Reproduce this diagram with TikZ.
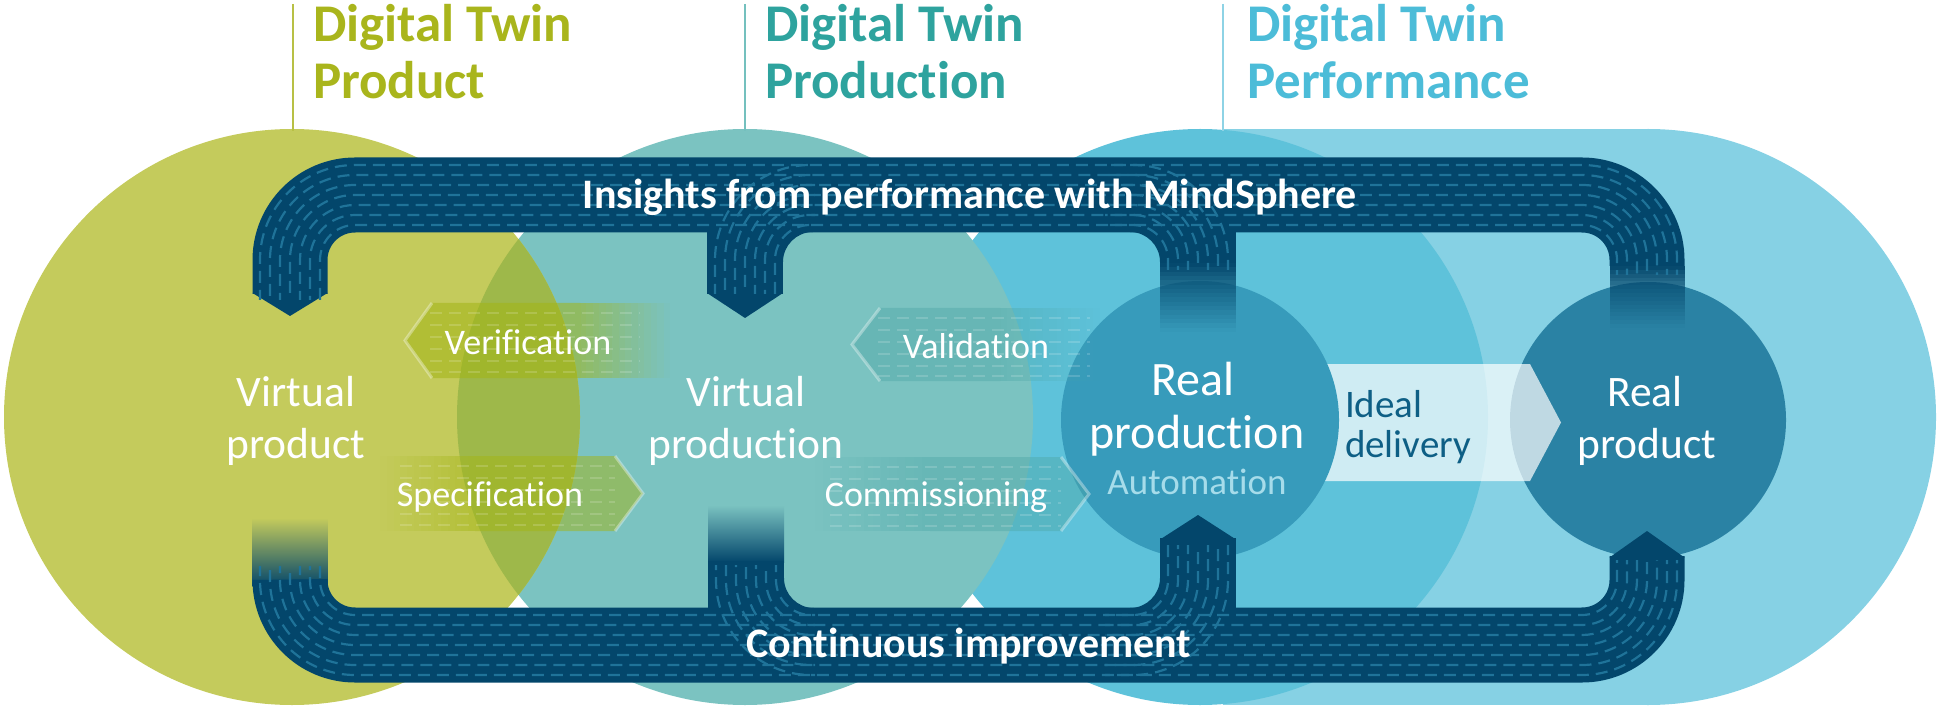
\documentclass[tikz,border=0pt]{standalone}
\usepackage{fontspec}
\newfontfamily\fca{Carlito}[Ligatures=NoCommon]
\newcommand\fsemi{\fca\bfseries}
\newcommand\flight{\fca}
\newcommand\freg{\fca}
\definecolor{cgreen}{HTML}{C4CB5C}
\definecolor{clens}{HTML}{9EB84A}
\definecolor{cteal}{HTML}{7BC3C1}
\definecolor{cmed}{HTML}{5EC2DA}
\definecolor{cstad}{HTML}{86D1E4}
\definecolor{cprod}{HTML}{379BBB}
\definecolor{cprodt}{HTML}{2A82A4}
\definecolor{cband}{HTML}{03466B}
\definecolor{cdash}{HTML}{1F7399}
\definecolor{tgreen}{HTML}{A9B51C}
\definecolor{tteal}{HTML}{2EA39E}
\definecolor{tblue}{HTML}{4CBCD8}
\definecolor{lgreen}{HTML}{B8C045}
\definecolor{lteal}{HTML}{74C0BE}
\definecolor{lblue}{HTML}{8ED3E5}
\definecolor{cauto}{HTML}{A6DCEA}
\definecolor{cideal}{HTML}{0E5F85}
\definecolor{cver}{HTML}{A3B515}
\definecolor{cval}{HTML}{4FA8A8}
\newcommand\hfade[7]{%
  \foreach \i in {1,...,#7}{%
    \pgfmathsetmacro\xa{#1+(#2-#1)*(\i-1)/#7}%
    \pgfmathsetmacro\xb{#1+(#2-#1)*\i/#7}%
    \pgfmathsetmacro\op{#6*(1-(\i-0.5)/#7)}%
    \fill[#5, opacity=\op] (\xa,#3) rectangle (\xb,#4);
  }}
\newcommand\vfade[7]{%
  \foreach \i in {1,...,#7}{%
    \pgfmathsetmacro\ya{#1+(#2-#1)*(\i-1)/#7}%
    \pgfmathsetmacro\yb{#1+(#2-#1)*\i/#7}%
    \pgfmathsetmacro\op{#6*(1-(\i-0.5)/#7)}%
    \fill[#5, opacity=\op] (#3,\ya) rectangle (#4,\yb);
  }}
\tikzset{
  every node/.style={inner sep=0pt, outer sep=0pt},
  tex/.style={cdash, line width=2.2pt, dash pattern=on 12pt off 7pt},
  band/.style={cband, line width=75pt, rounded corners=65pt},
  ttl/.style={anchor=base west, font=\fsemi\fontsize{53pt}{56pt}\selectfont},
  bandlbl/.style={anchor=base, text=white, font=\fsemi\fontsize{42pt}{44pt}\selectfont},
  big/.style={anchor=base, text=white, font=\flight\fontsize{43.5pt}{46pt}\selectfont},
  arr/.style={anchor=base, text=white, font=\flight\fontsize{36pt}{38pt}\selectfont},
  chev/.style={white, opacity=.35, line width=3pt},
  arrtex/.style={white, opacity=.16, line width=2pt, dash pattern=on 12pt off 7pt}
}
\begin{document}
\begin{tikzpicture}[x=1pt,y=-1pt]
\useasboundingbox (0,0) rectangle (1937,708);
% ---- background shapes
\fill[cstad] (1223,129) rectangle (1648,705);
\fill[cstad] (1648,417) circle[radius=288];
\fill[cmed] (1200,417) circle[radius=288];
\fill[cteal] (745,417) circle[radius=288];
\fill[cgreen] (292,417) circle[radius=288];
\begin{scope}
  \clip (292,417) circle[radius=288];
  \fill[clens] (745,417) circle[radius=288];
\end{scope}
% ---- titles
\draw[lgreen, line width=2.5pt] (293,4) -- (293,131);
\draw[lteal, line width=2.5pt] (745,4) -- (745,131);
\draw[lblue, line width=2.5pt] (1223,4) -- (1223,131);
\node[ttl, text=tgreen] (t1a) at (313,42) {Digital Twin};
\node[ttl, text=tgreen] (t1b) at (313,99) {Product};
\node[ttl, text=tteal] (t2a) at (765,42) {Digital Twin};
\node[ttl, text=tteal] (t2b) at (765,99) {Production};
\node[ttl, text=tblue] (t3a) at (1247,42) {Digital Twin};
\node[ttl, text=tblue] (t3b) at (1247,99) {Performance};
% ---- real product circle, ideal delivery, real production circle
\fill[cprodt] (1648,420) circle[radius=138];
\fill[white, opacity=.7] (1250,364) -- (1530,364) -- (1561,422.5) -- (1530,481) -- (1250,481) -- cycle;
\fill[cprod] (1200,420) circle[radius=139];
% ---- text arrows
% Verification
\fill[cver, opacity=.55] (405,340.5) -- (432,303) -- (580,303) -- (580,378) -- (432,378) -- cycle;
\hfade{580}{670}{303}{378}{cver}{.55}{14}
\draw[chev] (432,303) -- (405,340.5) -- (432,378);
\foreach \yy in {313,325,337,349,361,372} \draw[arrtex] (430,\yy) -- (640,\yy);
% Specification
\fill[cver, opacity=.5] (643,493.5) -- (615,456) -- (475,456) -- (475,531) -- (615,531) -- cycle;
\hfade{475}{380}{456}{531}{cver}{.5}{14}
\draw[chev] (615,456) -- (643,493.5) -- (615,531);
\foreach \yy in {466,478,490,502,514,525} \draw[arrtex] (400,\yy) -- (615,\yy);
% Validation
\fill[cval, opacity=.45] (852,344.5) -- (880,308) -- (1000,308) -- (1000,381) -- (880,381) -- cycle;
\hfade{1000}{1100}{308}{381}{cval}{.45}{14}
\draw[chev] (880,308) -- (852,344.5) -- (880,381);
\foreach \yy in {318,330,342,354,366,376} \draw[arrtex] (878,\yy) -- (1090,\yy);
% Commissioning
\fill[cval, opacity=.45] (1089,494) -- (1061,457) -- (930,457) -- (930,531) -- (1061,531) -- cycle;
\hfade{930}{815}{457}{531}{cval}{.45}{14}
\draw[chev] (1061,457) -- (1089,494) -- (1061,531);
\foreach \yy in {467,479,491,503,515,526} \draw[arrtex] (830,\yy) -- (1061,\yy);
% ---- top band
\draw[band] (290,294) -- (290,195) -- (1647,195) -- (1647,266);
\fill[cband] (252.5,293) -- (327.5,293) -- (290,316) -- cycle;
\fill[cband] (707,230) rectangle (783,294);
\fill[cband] (707,293) -- (783,293) -- (745,318) -- cycle;
\fill[cband] (783,232) -- (783,262) arc[start angle=180, end angle=270, radius=30] -- cycle;
\fill[cband] (1160,230) rectangle (1236,263);
\fill[cband] (1160,232) -- (1160,262) arc[start angle=0, end angle=-90, radius=30] -- cycle;
\vfade{263}{332}{1160}{1236}{cband}{1}{16}
\vfade{266}{328}{1609.5}{1684.5}{cband}{1}{16}
% ---- bottom band
\shade[top color=cgreen, bottom color=cband] (252.5,518) rectangle (327.5,586);
\draw[band] (290,585) -- (290,645) -- (1647,645) -- (1647,556);
\fill[cband] (1609.5,557.5) -- (1647,531) -- (1684.5,557.5) -- cycle;
\shade[top color=cteal, bottom color=cband] (708,505) rectangle (784,562);
\fill[cband] (708,561) rectangle (784,610);
\fill[cband] (784,608) -- (784,578) arc[start angle=180, end angle=90, radius=30] -- cycle;
\fill[cband] (1160,538) rectangle (1236,610);
\fill[cband] (1160,539.5) -- (1198,515) -- (1236,539.5) -- cycle;
\fill[cband] (1160,608) -- (1160,578) arc[start angle=0, end angle=90, radius=30] -- cycle;
% ---- band textures
\foreach \d/\ph in {-30/0,-20/8,-10/3,0/12,10/5,20/15,30/2}{%
  \pgfmathsetmacro\rr{65+\d}%
  \draw[tex, rounded corners=\rr pt, dash phase=\ph pt] ({290-\d},300) -- ({290-\d},{195-\d}) -- ({1647+\d},{195-\d}) -- ({1647+\d},275);
  \draw[tex, rounded corners=\rr pt, dash phase=\ph pt] ({290-\d},566) -- ({290-\d},{645+\d}) -- ({1647+\d},{645+\d}) -- ({1647+\d},560);
}
\begin{scope}
  \clip (707,158) rectangle (815,294);
  \foreach \d/\ph in {-30/0,-20/8,-10/3,0/12,10/5,20/15,30/2}{%
    \pgfmathsetmacro\rr{65+\d}%
    \draw[tex, rounded corners=\rr pt, dash phase=\ph pt] ({745-\d},294) -- ({745-\d},{195-\d}) -- (900,{195-\d});}
\end{scope}
\begin{scope}
  \clip (1105,158) rectangle (1236,270);
  \foreach \d/\ph in {-30/0,-20/8,-10/3,0/12,10/5,20/15,30/2}{%
    \pgfmathsetmacro\rr{65+\d}%
    \draw[tex, rounded corners=\rr pt, dash phase=\ph pt] ({1198+\d},270) -- ({1198+\d},{195-\d}) -- (1000,{195-\d});}
\end{scope}
\begin{scope}
  \clip (708,565) rectangle (815,682);
  \foreach \d/\ph in {-30/0,-20/8,-10/3,0/12,10/5,20/15,30/2}{%
    \pgfmathsetmacro\rr{65+\d}%
    \draw[tex, rounded corners=\rr pt, dash phase=\ph pt] ({746-\d},560) -- ({746-\d},{645+\d}) -- (900,{645+\d});}
\end{scope}
\begin{scope}
  \clip (1105,545) rectangle (1236,682);
  \foreach \d/\ph in {-30/0,-20/8,-10/3,0/12,10/5,20/15,30/2}{%
    \pgfmathsetmacro\rr{65+\d}%
    \draw[tex, rounded corners=\rr pt, dash phase=\ph pt] ({1198+\d},545) -- ({1198+\d},{645+\d}) -- (1000,{645+\d});}
\end{scope}
% ---- labels
\node[bandlbl] (ins) at (970,209) {Insights from performance with MindSphere};
\node[bandlbl] (ci) at (969,657) {Continuous improvement};
\node[big] (vp1) at (296,406) {Virtual};
\node[big] (vp2) at (296,458) {product};
\node[big] (vq1) at (746,406) {Virtual};
\node[big] (vq2) at (746,458) {production};
\node[anchor=base, text=white, font=\freg\fontsize{48pt}{50pt}\selectfont] (rp1) at (1193,395) {Real};
\node[anchor=base, text=white, font=\freg\fontsize{48pt}{50pt}\selectfont] (rp2) at (1197,448) {production};
\node[anchor=base, text=cauto, font=\flight\fontsize{37pt}{39pt}\selectfont] (rp3) at (1197,494) {Automation};
\node[anchor=base west, text=cideal, font=\freg\fontsize{39pt}{41pt}\selectfont] (id1) at (1345,417) {Ideal};
\node[anchor=base west, text=cideal, font=\freg\fontsize{39pt}{41pt}\selectfont] (id2) at (1345,457) {delivery};
\node[big] (rq1) at (1645,406) {Real};
\node[big] (rq2) at (1647,458) {product};
\node[arr] (ver) at (528,354) {Verification};
\node[arr] (spe) at (490,506) {Specification};
\node[arr] (val) at (976,358) {Validation};
\node[arr] (com) at (936,506) {Commissioning};
\end{tikzpicture}
\end{document}
